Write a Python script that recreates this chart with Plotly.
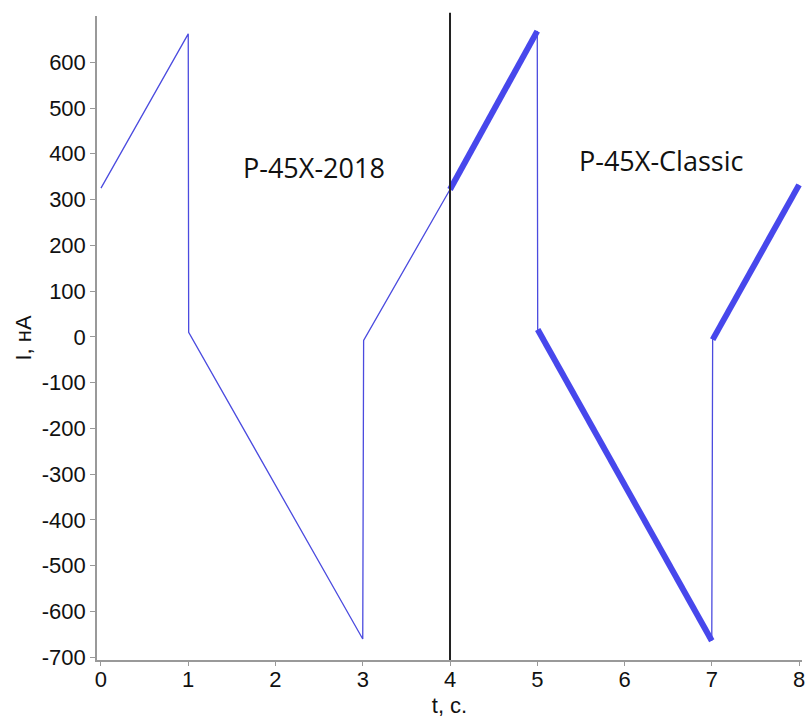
import plotly.graph_objects as go

# Data
t_vals = [0.0, 1.0, 1.005, 3.0, 3.01, 4.0, 5.0, 5.005, 7.0, 7.01, 8.0]
i_vals = [325, 662, 10, -660, -8, 322, 668, 16, -664, -6, 332]

# indices (start, end) of the segments drawn as a wide noisy band (P-45X-Classic part)
band_segments = [(5, 6), (7, 8), (9, 10)]

x_ticks = [0, 1, 2, 3, 4, 5, 6, 7, 8]
y_ticks = [600, 500, 400, 300, 200, 100, 0, -100, -200, -300, -400, -500, -600, -700]
y_tick_text = [str(v) for v in y_ticks]

divider_t = 4
labels = [("P-45X-2018", 2.44, 370), ("P-45X-Classic", 6.42, 385)]

line_color = "#4b4bdf"
band_color = "#4747ec"

fig = go.Figure()
fig.add_trace(go.Scatter(x=t_vals, y=i_vals, mode="lines",
                         line=dict(color=line_color, width=1.3), hoverinfo="skip"))

bx, by = [], []
for a, b in band_segments:
    bx += [t_vals[a], t_vals[b], None]
    by += [i_vals[a], i_vals[b], None]
fig.add_trace(go.Scatter(x=bx, y=by, mode="lines",
                         line=dict(color=band_color, width=6), hoverinfo="skip"))

fig.add_shape(type="line", xref="x", yref="paper", x0=divider_t, x1=divider_t,
              y0=0, y1=1.005, line=dict(color="#222222", width=2))

for txt, x, y in labels:
    fig.add_annotation(x=x, y=y, text=txt, showarrow=False, xref="x", yref="y",
                       font=dict(family="Open Sans", size=27, color="#111111"))

axis_font = dict(family="Arial", size=22, color="#111111")
fig.update_layout(
    width=807, height=718,
    margin=dict(l=97, r=2, t=16, b=58),
    paper_bgcolor="white", plot_bgcolor="white",
    showlegend=False,
    font=axis_font,
)
fig.update_xaxes(range=[-0.0456, 8.034], tickvals=x_ticks, ticks="outside", ticklen=4,
                 tickcolor="#999999", showline=True, linecolor="#999999", linewidth=1.5,
                 showgrid=False, zeroline=False, tickfont=axis_font,
                 ticklabeloverflow="allow", ticklabelstandoff=-5,
                 title=dict(text="t, c.", font=axis_font, standoff=6))
fig.update_yaxes(range=[-706, 701], tickvals=y_ticks, ticktext=y_tick_text,
                 ticks="outside", ticklen=5,
                 tickcolor="#999999", showline=True, linecolor="#999999", linewidth=1.5,
                 showgrid=False, zeroline=False, tickfont=axis_font,
                 title=dict(text="I, нА", font=axis_font, standoff=4))

fig.write_html("out.html")
